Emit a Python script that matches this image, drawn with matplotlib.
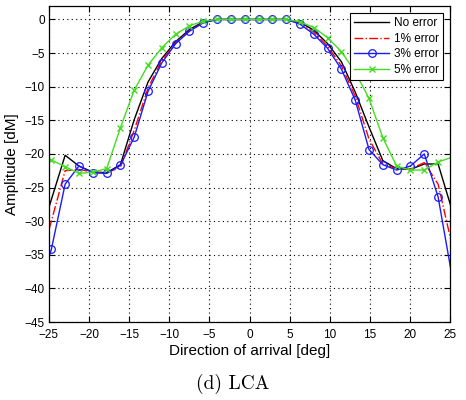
import numpy as np
import matplotlib
matplotlib.use("Agg")
import matplotlib.pyplot as plt

# Direction-of-arrival grid (deg)
angles = [-26.42, -24.70, -22.98, -21.26, -19.54, -17.81, -16.09, -14.37, -12.65,
          -10.93, -9.21, -7.49, -5.76, -4.04, -2.32, -0.60, 1.12, 2.84, 4.56,
          6.29, 8.01, 9.73, 11.45, 13.17, 14.89, 16.61, 18.33, 20.05, 21.78,
          23.50, 25.22]

no_error = [-33.5, -26.8, -20.2, -21.8, -22.7, -22.8, -21.6, -14.9, -9.3,
            -5.8, -3.3, -1.5, -0.35, 0, 0, 0, 0, 0, 0,
            -0.4, -1.6, -3.6, -6.3, -10.8, -16.0, -21.0, -22.2, -22.3, -21.5,
            -21.5, -28.3]

err1 = [-37.5, -30.0, -22.5, -22.3, -22.7, -22.8, -22.0, -16.5, -10.2,
        -6.1, -3.5, -1.7, -0.45, 0, 0, 0, 0, 0, 0,
        -0.55, -1.9, -4.0, -6.9, -11.4, -17.8, -21.5, -22.2, -22.2, -21.3,
        -24.5, -33.5]

err3 = [-41.1, -34.2, -24.5, -21.8, -22.8, -22.9, -21.7, -17.5, -10.7,
        -6.45, -3.6, -1.75, -0.5, 0, 0, 0, 0, 0, 0,
        -0.7, -2.2, -4.3, -7.4, -12.0, -19.35, -21.6, -22.4, -21.8, -20.0,
        -26.4, -38.1]

err5 = [-20.0, -20.9, -21.9, -22.9, -22.7, -22.2, -16.1, -10.5, -6.8,
        -4.2, -2.2, -0.95, -0.25, 0, 0, 0, 0, 0, 0,
        -0.35, -1.2, -2.7, -4.8, -7.8, -11.75, -17.6, -21.8, -22.4, -22.4,
        -21.2, -20.5]

labels = ["No error", "1% error", "3% error", "5% error"]
xticks = [-25, -20, -15, -10, -5, 0, 5, 10, 15, 20, 25]
yticks = [0, -5, -10, -15, -20, -25, -30, -35, -40, -45]

plt.rcParams['font.family'] = ['Liberation Sans', 'DejaVu Sans']

fig = plt.figure(figsize=(4.66, 4.0), dpi=100)
ax = fig.add_axes([0.105, 0.195, 0.861, 0.790])

inner = slice(1, len(angles) - 1)
ax.plot(angles, no_error, color='black', lw=1.0, label=labels[0])
ax.plot(angles, err1, color='red', lw=1.0, ls='-.', label=labels[1])
ax.plot(angles, err3, color='#1a1aff', lw=1.0, marker='o', ms=5.5,
        mfc='none', mec='#1a1aff', mew=0.9, markevery=inner, label=labels[2])
ax.plot(angles, err5, color='#44dd22', lw=1.0, marker='x', ms=4,
        mew=1.0, markevery=inner, label=labels[3])

ax.set_xlim(-25, 25)
ax.set_ylim(-45, 2)
ax.set_xticks(xticks)
ax.set_yticks(yticks)
ax.set_xticklabels([f"{t}".replace('-', '\u2212') for t in xticks])
ax.set_yticklabels([f"{t}".replace('-', '\u2212') for t in yticks])
ax.tick_params(direction='in', top=True, right=True, length=4, width=0.8,
               labelsize=8.5)
ax.tick_params(axis='x', pad=5)
ax.tick_params(axis='y', pad=3)
ax.grid(True, color='black', ls=(0, (1, 3)), lw=0.8)
for s in ax.spines.values():
    s.set_linewidth(0.9)

ax.set_xlabel("Direction of arrival [deg]", fontsize=11, labelpad=2)
ax.set_ylabel("Amplitude [dM]", fontsize=11, labelpad=4)

leg = ax.legend(loc='upper right', fontsize=8.5, handlelength=3.0,
                fancybox=False, framealpha=1, edgecolor='black',
                borderpad=0.35, labelspacing=0.3, handletextpad=0.4,
                borderaxespad=0.6)
leg.get_frame().set_linewidth(0.8)

fig.text(0.5, 0.04, "(d) LCA", ha='center', va='center', fontsize=14,
         family=['cmr10', 'DejaVu Serif'])

fig.savefig("out.png", dpi=100)
